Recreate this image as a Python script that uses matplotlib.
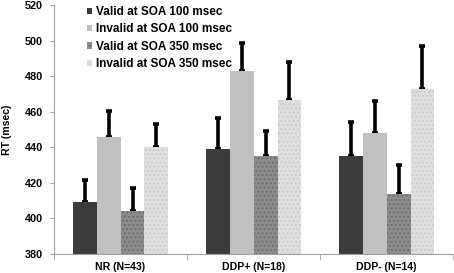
import numpy as np
import matplotlib.pyplot as plt
from matplotlib.patches import Patch

plt.rcParams['font.family'] = ['Liberation Sans', 'DejaVu Sans']
plt.rcParams['font.weight'] = 'bold'
plt.rcParams['hatch.linewidth'] = 0.8

groups = ["NR (N=43)", "DDP+ (N=18)", "DDP- (N=14)"]
series = ["Valid at SOA 100 msec", "Invalid at SOA 100 msec",
          "Valid at SOA 350 msec", "Invalid at SOA 350 msec"]

# mean RT per group, one list per condition
valid100 = [409, 439, 435]
invalid100 = [446, 483, 448]
valid350 = [404, 435, 414]
invalid350 = [440, 467, 473]
# upper error bar ends
valid100_top = [421.5, 456.5, 454.5]
invalid100_top = [460.5, 499, 466]
valid350_top = [417, 449, 430]
invalid350_top = [453, 488, 497]

values = [valid100, invalid100, valid350, invalid350]
tops = [valid100_top, invalid100_top, valid350_top, invalid350_top]
faces = ["#3c3c3c", "#c0c0c0", "#8c8c8c", "#dedede"]
hatches = [None, None, "....", "...."]
edges = ["#3c3c3c", "#c0c0c0", "#6a6a6a", "#c8c8c8"]

fig = plt.figure(figsize=(4.54, 2.73), dpi=100)
ax = fig.add_axes([0.119, 0.07, 0.879, 0.91])

x = np.arange(len(groups))
w = 0.18
offs = [-0.27, -0.09, 0.09, 0.27]
handles = []
for i in range(4):
    v = np.array(values[i])
    up = np.array(tops[i]) - v
    ax.bar(x + offs[i], v - 380, w, bottom=380, color=faces[i],
           hatch=hatches[i], edgecolor=edges[i], linewidth=0, zorder=2)
    ax.errorbar(x + offs[i], v, yerr=[np.zeros(3), up], fmt='none',
                ecolor='black', elinewidth=2.6, capsize=2.2, capthick=2.6, zorder=1)
    handles.append(Patch(facecolor=faces[i], edgecolor=edges[i],
                         hatch=hatches[i], linewidth=0))

ax.set_ylim(380, 520)
ax.set_yticks(range(380, 521, 20))
ax.set_xlim(-0.5, 2.5)
ax.set_xticks(x)
ax.set_xticklabels(groups)
ax.set_xticks([-0.5, 0.5, 1.5, 2.5], minor=True)
ax.tick_params(axis='x', which='major', length=0, pad=6, labelsize=7.6)
ax.tick_params(axis='x', which='minor', length=4, color='#a0a0a0')
ax.tick_params(axis='y', length=3, color='#a0a0a0', labelsize=7.8, pad=5)
ax.set_ylabel("RT (msec)", fontsize=7.6, fontweight='bold', labelpad=9)
for s in ['top', 'right']:
    ax.spines[s].set_visible(False)
for s in ['left', 'bottom']:
    ax.spines[s].set_color('#a0a0a0')
    ax.spines[s].set_linewidth(0.8)

ax.legend(handles, series, loc='upper left', bbox_to_anchor=(0.055, 1.04),
          frameon=False, fontsize=8.5, handlelength=0.45, handleheight=0.45,
          handletextpad=0.35, labelspacing=0.45)

fig.savefig("out.png", dpi=100)
